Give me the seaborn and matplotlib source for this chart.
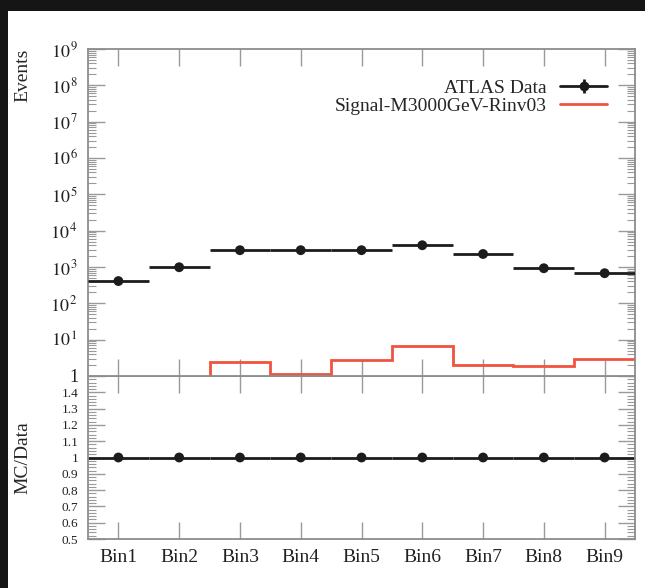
import numpy as np
import pandas as pd
import matplotlib
matplotlib.use("Agg")
import matplotlib.pyplot as plt
from matplotlib.patches import Rectangle
from matplotlib.lines import Line2D
from matplotlib.ticker import FixedLocator, LogLocator, MultipleLocator, FuncFormatter, NullFormatter
import seaborn as sns

# ---- data -------------------------------------------------------------
bins = ["Bin1", "Bin2", "Bin3", "Bin4", "Bin5", "Bin6", "Bin7", "Bin8", "Bin9"]
data_events = [410, 985, 2900, 2900, 2900, 3970, 2280, 925, 675]
signal_events = [0, 0, 2.43, 1.16, 2.84, 6.6, 2.0, 1.92, 2.87]
mc_over_data = [1, 1, 1, 1, 1, 1, 1, 1, 1]
data_label = "ATLAS Data"
signal_label = "Signal-M3000GeV-Rinv03"

# ---- style ------------------------------------------------------------
sns.set_style("ticks")
plt.rcParams["font.family"] = ["Liberation Serif", "DejaVu Serif"]
plt.rcParams["mathtext.fontset"] = "stix"

FRAME = "#8c8c8c"
TICK = "#9a9a9a"
INK = "#1c1c1c"
RED = "#f2533f"
FS = 14

W, H = 645, 588
fig = plt.figure(figsize=(W / 100, H / 100), dpi=100)
fig.patch.set_facecolor("#151515")
fig.patches.append(Rectangle((8 / W, 0), 1 - 8 / W, 1 - 11 / H,
                             transform=fig.transFigure, facecolor="white",
                             edgecolor="none", zorder=-5))

left, right = 88 / W, 635 / W
top_px, mid_px, bot_px = 49, 376, 539
ax = fig.add_axes([left, 1 - mid_px / H, right - left, (mid_px - top_px) / H])
rax = fig.add_axes([left, 1 - bot_px / H, right - left, (bot_px - mid_px) / H], sharex=ax)
ax.set_zorder(2)
rax.set_zorder(1)

x = np.arange(len(bins))
edges = np.arange(len(bins) + 1) - 0.5
df = pd.DataFrame({"bin": x, "data": data_events, "signal": signal_events,
                   "ratio": mc_over_data})

# ---- main panel -------------------------------------------------------
ax.set_yscale("log")
ax.stairs(df["signal"], edges, baseline=None, color=RED, linewidth=2, zorder=2)
ax.errorbar(df["bin"], df["data"], xerr=0.5, yerr=np.sqrt(df["data"]),
            fmt="none", ecolor=INK, elinewidth=2, capsize=0, zorder=3)
sns.scatterplot(data=df, x="bin", y="data", color=INK, s=50, edgecolor="none",
                ax=ax, zorder=4)

ax.set_xlim(edges[0], edges[-1])
ax.set_ylim(1, 1e9)
ax.set_xlabel("")
ax.set_ylabel("Events", fontsize=FS, loc="top")
ax.yaxis.set_label_coords(-0.104, 1.0)

ax.yaxis.set_major_locator(LogLocator(base=10, numticks=20))
ax.yaxis.set_minor_locator(LogLocator(base=10, subs=np.arange(2, 10), numticks=20))
ax.yaxis.set_minor_formatter(NullFormatter())
ax.yaxis.set_major_formatter(FuncFormatter(
    lambda v, p: "1" if np.isclose(v, 1) else r"$10^{\,%d}$" % round(np.log10(v))))

# legend: data handle = horizontal bar + marker + short vertical error
data_handle = (Line2D([], [], color=INK, lw=2),
               Line2D([], [], color=INK, ls="none", marker="o", ms=6),
               Line2D([], [], color=INK, ls="none", marker="|", ms=10, mew=2))
sig_handle = Line2D([], [], color=RED, linewidth=2)
ax.legend(handles=[data_handle, sig_handle], labels=[data_label, signal_label],
          loc="upper right", bbox_to_anchor=(0.949, 0.908), frameon=False,
          markerfirst=False, fontsize=FS, handlelength=2.4, handletextpad=0.7,
          labelspacing=0.05, borderpad=0, borderaxespad=0)

# ---- ratio panel ------------------------------------------------------
rax.errorbar(df["bin"], df["ratio"], xerr=0.5, fmt="none", ecolor=INK,
             elinewidth=2, capsize=0, zorder=2)
sns.scatterplot(data=df, x="bin", y="ratio", color=INK, s=50, edgecolor="none",
                ax=rax, zorder=3)
rax.set_ylim(0.5, 1.5)
rax.yaxis.set_major_locator(FixedLocator(np.round(np.arange(0.5, 1.45, 0.1), 2)))
rax.yaxis.set_minor_locator(MultipleLocator(0.02))
rax.yaxis.set_major_formatter(FuncFormatter(lambda v, p: "%g" % round(v, 2)))
rax.set_ylabel("MC/Data", fontsize=FS)
rax.yaxis.set_label_coords(-0.104, 0.5)
rax.set_xlabel("")
rax.set_xticks(x)
rax.set_xticklabels(bins)

# ---- frames and ticks -------------------------------------------------
for a in (ax, rax):
    for s in a.spines.values():
        s.set_color(FRAME)
        s.set_linewidth(1.3)
    a.tick_params(which="both", direction="in", left=True, right=True,
                  top=True, bottom=True, color=TICK, width=1.0)
    a.tick_params(which="major", length=12.5)
    a.tick_params(which="minor", length=5.8, width=0.8)
    a.tick_params(axis="y", labelsize=13, pad=7, labelcolor="#222222")
    a.xaxis.set_minor_locator(FixedLocator([]))
rax.tick_params(axis="y", labelsize=9.5)
ax.tick_params(axis="x", labelbottom=False)
rax.tick_params(axis="x", labelsize=FS, pad=7, labelcolor="#222222")
ax.set_xticks(x)
ax.set_xlim(edges[0], edges[-1])

fig.savefig("out.png", dpi=100, facecolor=fig.get_facecolor())
